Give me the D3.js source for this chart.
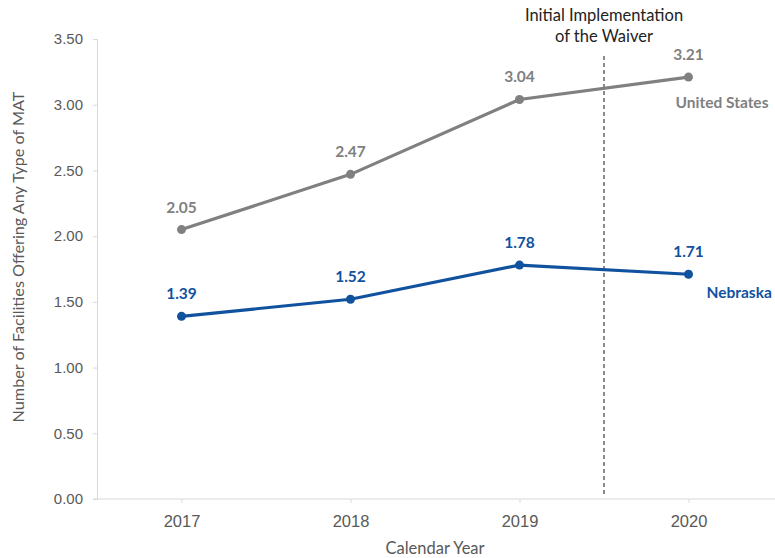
<!DOCTYPE html>
<html>
<head>
<meta charset="utf-8">
<script src="https://cdn.jsdelivr.net/npm/d3@7"></script>
<style>
  html, body { margin: 0; padding: 0; background: #fff; }
  svg { display: block; font-family: Lato, "Open Sans", sans-serif; }
</style>
</head>
<body>
<svg id="chart" width="775" height="558"></svg>
<script>
// Average number of facilities offering any type of MAT, by calendar year
const years = ["2017", "2018", "2019", "2020"];
const usValues = [2.05, 2.47, 3.04, 3.21];
const nebraskaValues = [1.39, 1.52, 1.78, 1.71];
const yTicks = [0, 0.5, 1, 1.5, 2, 2.5, 3, 3.5];
const seriesNames = ["United States", "Nebraska"];
const annotationLines = ["Initial Implementation", "of the Waiver"];

const svg = d3.select("#chart");
const plotLeft = 97, plotRight = 773, plotTop = 39, plotBottom = 499;

const x = d3.scalePoint().domain(years).range([plotLeft, plotRight]).padding(0.5);
const y = d3.scaleLinear().domain([0, 3.5]).range([plotBottom, plotTop]);

const axisColor = "#d9d9d9";
const textColor = "#595959";

// Y axis
const yAxis = svg.append("g")
  .attr("transform", `translate(${plotLeft},0)`)
  .call(d3.axisLeft(y).tickValues(yTicks).tickFormat(d3.format(".2f")).tickSize(4).tickPadding(10));
yAxis.select(".domain").attr("stroke", axisColor);
yAxis.selectAll(".tick line").attr("stroke", axisColor);
yAxis.selectAll(".tick text").attr("fill", textColor).attr("font-size", 15);

// X axis
const xAxis = svg.append("g")
  .attr("transform", `translate(0,${plotBottom})`)
  .call(d3.axisBottom(x).tickSize(4).tickPadding(12));
xAxis.select(".domain").attr("d", `M${plotLeft - 4},0H775`).attr("stroke", axisColor);
xAxis.selectAll(".tick line").attr("stroke", axisColor);
xAxis.selectAll(".tick text").attr("fill", textColor).attr("font-size", 16.5);

// Axis titles
svg.append("text")
  .attr("x", 435).attr("y", 554)
  .attr("text-anchor", "middle").attr("fill", textColor).attr("font-size", 16.5)
  .text("Calendar Year");
svg.append("text")
  .attr("transform", `translate(24,257) rotate(-90)`)
  .attr("text-anchor", "middle").attr("fill", textColor).attr("font-size", 16.2)
  .text("Number of Facilities Offering Any Type of MAT");

// Waiver implementation marker between 2019 and 2020
const step = x.step();
const xWaiver = x("2019") + step / 2;
svg.append("line")
  .attr("x1", xWaiver).attr("x2", xWaiver)
  .attr("y1", 56).attr("y2", plotBottom - 2)
  .attr("stroke", "#666").attr("stroke-width", 1.5).attr("stroke-dasharray", "4,3");
svg.append("text")
  .attr("x", xWaiver).attr("text-anchor", "middle").attr("fill", "#222").attr("font-size", 16.5)
  .selectAll("tspan").data(annotationLines).join("tspan")
  .attr("x", xWaiver).attr("y", (d, i) => 21 + i * 21).text(d => d);

// Series
const series = [
  { name: seriesNames[0], values: usValues, color: "#808080", labelDx: -13, labelDy: 31 },
  { name: seriesNames[1], values: nebraskaValues, color: "#11529f", labelDx: 18, labelDy: 24 }
];

const line = d3.line().x((d, i) => x(years[i])).y(d => y(d));

series.forEach(s => {
  const g = svg.append("g");
  g.append("path").datum(s.values)
    .attr("d", line).attr("fill", "none")
    .attr("stroke", s.color).attr("stroke-width", 3.2);
  g.selectAll("circle").data(s.values).join("circle")
    .attr("cx", (d, i) => x(years[i])).attr("cy", d => y(d)).attr("r", 4.5)
    .attr("fill", s.color);
  g.selectAll("text.val").data(s.values).join("text")
    .attr("class", "val")
    .attr("x", (d, i) => x(years[i])).attr("y", d => y(d) - 17)
    .attr("text-anchor", "middle").attr("font-weight", "bold").attr("font-size", 15.5)
    .attr("fill", s.color)
    .text(d => d3.format(".2f")(d));
  const last = s.values[s.values.length - 1];
  g.append("text")
    .attr("x", x(years[years.length - 1]) + s.labelDx).attr("y", y(last) + s.labelDy)
    .attr("font-weight", "bold").attr("font-size", 15.5)
    .attr("fill", s.color)
    .text(s.name);
});
</script>
</body>
</html>
